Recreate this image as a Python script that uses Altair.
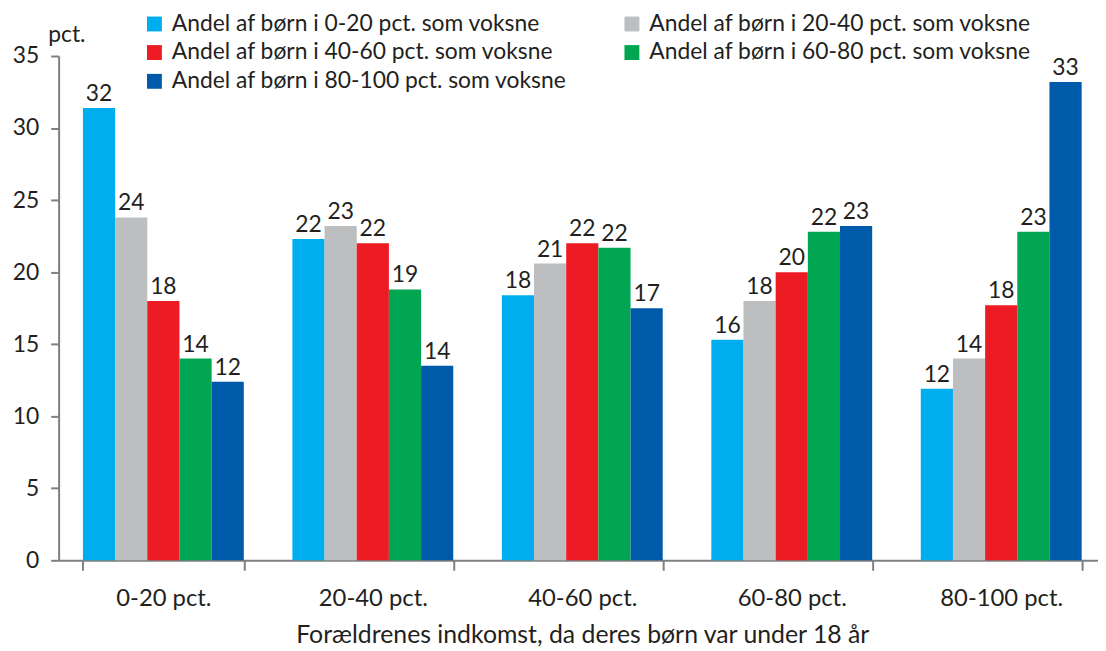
import altair as alt
import pandas as pd

groups = ["0-20 pct.", "20-40 pct.", "40-60 pct.", "60-80 pct.", "80-100 pct."]
series = [
    "Andel af børn i 0-20 pct. som voksne",
    "Andel af børn i 20-40 pct. som voksne",
    "Andel af børn i 40-60 pct. som voksne",
    "Andel af børn i 60-80 pct. som voksne",
    "Andel af børn i 80-100 pct. som voksne",
]
colors = ["#00AEEF", "#BCBEC0", "#ED1C24", "#00A651", "#005AAA"]

# bar heights per parent-income group (one list per series)
s0_20 = [31.4, 22.3, 18.4, 15.3, 11.9]
s20_40 = [23.8, 23.2, 20.6, 18.0, 14.0]
s40_60 = [18.0, 22.0, 22.0, 20.0, 17.7]
s60_80 = [14.0, 18.8, 21.7, 22.8, 22.8]
s80_100 = [12.4, 13.5, 17.5, 23.2, 33.2]

# printed labels
l0_20 = [32, 22, 18, 16, 12]
l20_40 = [24, 23, 21, 18, 14]
l40_60 = [18, 22, 22, 20, 18]
l60_80 = [14, 19, 22, 22, 23]
l80_100 = [12, 14, 17, 23, 33]

vals = [s0_20, s20_40, s40_60, s60_80, s80_100]
labs = [l0_20, l20_40, l40_60, l60_80, l80_100]

rows = []
for si, s in enumerate(series):
    for gi, g in enumerate(groups):
        rows.append({"group": g, "series": s, "value": vals[si][gi], "label": str(labs[si][gi])})
df = pd.DataFrame(rows)

# legend fills column by column: order entries so rows read 0-20 | 20-40, 40-60 | 60-80, 80-100
legend_order = [0, 2, 4, 1, 3]
color_domain = [series[i] for i in legend_order]
color_range = [colors[i] for i in legend_order]

FONT = "Lato"
TXT = "#231F20"
AX = "#7F7F7F"

x_enc = alt.X(
    "group:N",
    sort=groups,
    scale=alt.Scale(paddingInner=0.232, paddingOuter=0.116),
    axis=alt.Axis(
        title="Forældrenes indkomst, da deres børn var under 18 år",
        labelAngle=0,
        tickBand="extent",
        tickSize=10,
        labelPadding=17,
        titlePadding=12,
        labelFontSize=24,
        titleFontSize=25,
    ),
)
xoff = alt.XOffset("series:N", sort=series)
y_enc = alt.Y(
    "value:Q",
    scale=alt.Scale(domain=[0, 35], nice=False),
    axis=alt.Axis(
        values=[0, 5, 10, 15, 20, 25, 30, 35],
        tickSize=8,
        labelPadding=12,
        labelFontSize=23,
        title="pct.",
        titleFontSize=23,
        titleAngle=0,
        titleX=-11,
        titleY=-15,
        titleAlign="left",
        titleBaseline="alphabetic",
    ),
)

bars = alt.Chart(df).mark_bar().encode(
    x=x_enc,
    xOffset=xoff,
    y=y_enc,
    color=alt.Color(
        "series:N",
        scale=alt.Scale(domain=color_domain, range=color_range),
        legend=alt.Legend(
            title=None,
            orient="none",
            legendX=85,
            legendY=-44,
            columns=2,
            symbolType="square",
            symbolSize=225,
            symbolStrokeWidth=0,
            labelOffset=6,
            rowPadding=5,
            columnPadding=54,
            padding=0,
        ),
    ),
)

text = alt.Chart(df).mark_text(baseline="alphabetic", dy=-7, fontSize=23, font=FONT, color=TXT).encode(
    x=alt.X("group:N", sort=groups),
    xOffset=xoff,
    y="value:Q",
    text="label:N",
)

chart = (
    alt.layer(bars, text)
    .properties(
        width=1055,
        height=508,
        autosize=alt.AutoSizeParams(type="none"),
        padding={"left": 51, "top": 46, "right": -8, "bottom": 89},
    )
    .configure_view(stroke=None)
    .configure_axis(
        grid=False,
        domainColor=AX,
        domainWidth=2,
        tickColor=AX,
        tickWidth=2,
        labelFont=FONT,
        labelColor=TXT,
        titleFont=FONT,
        titleFontWeight="normal",
        titleColor=TXT,
    )
    .configure_legend(labelFont=FONT, labelFontSize=23, labelColor=TXT, labelLimit=0)
)

chart.save("out.html", embed_options={"renderer": "svg", "actions": False})
